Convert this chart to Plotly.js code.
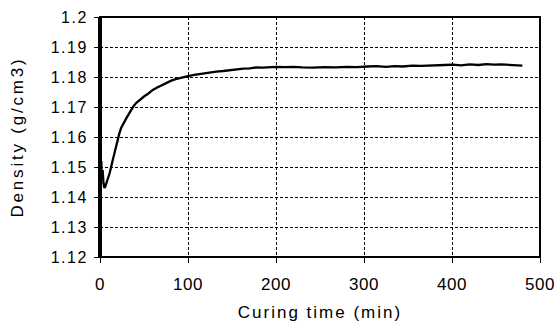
<!DOCTYPE html>
<html><head><meta charset="utf-8">
<script src="https://cdn.plot.ly/plotly-3.0.1.min.js"></script>
<style>
html,body{margin:0;padding:0;background:#fff;}
#chart{width:556px;height:325px;}
#chart .ytitle{letter-spacing:2.8px;}
#chart .xtitle{letter-spacing:2px;}
#chart .ytick text{letter-spacing:1.5px;}
#chart .xtick text{letter-spacing:0.5px;}
</style>
</head><body><div id="chart"></div>
<script>
const timeMin = [0, 0.5, 1, 1.5, 2, 3, 4, 5, 6, 7, 9, 11, 14.5, 17, 19.5, 22, 24, 27, 30, 33, 35, 38, 41, 45, 50, 55, 60, 65, 70, 75, 81, 86, 92, 100, 107, 113, 119, 125, 132, 140, 147, 155, 163, 170, 178, 185, 192, 200, 210, 220, 230, 242, 255, 268, 280, 292, 304, 314, 325, 335, 344, 355, 365, 375, 382, 392, 401, 410, 420, 430, 439, 448, 456, 464, 472, 480];
const density = [1.150, 1.154, 1.147, 1.152, 1.146, 1.149, 1.1445, 1.143, 1.1435, 1.1445, 1.1457, 1.148, 1.1523, 1.1555, 1.159, 1.1612, 1.163, 1.1648, 1.1663, 1.1678, 1.1688, 1.1702, 1.1713, 1.1724, 1.1735, 1.1745, 1.1757, 1.1765, 1.1773, 1.178, 1.1788, 1.1793, 1.1798, 1.1803, 1.1807, 1.181, 1.1812, 1.1815, 1.1818, 1.182, 1.1823, 1.1825, 1.1828, 1.1829, 1.1832, 1.1831, 1.1833, 1.1834, 1.1833, 1.1834, 1.1832, 1.1831, 1.1833, 1.1832, 1.1834, 1.1833, 1.1835, 1.1836, 1.1834, 1.1836, 1.1835, 1.1838, 1.1837, 1.1839, 1.1838, 1.184, 1.1841, 1.1839, 1.1842, 1.184, 1.1843, 1.1841, 1.1842, 1.184, 1.1839, 1.1838];
const xTicks = [0, 100, 200, 300, 400, 500];
const yTicks = [1.12, 1.13, 1.14, 1.15, 1.16, 1.17, 1.18, 1.19, 1.2];
const yTickText = ["1.12", "1.13", "1.14", "1.15", "1.16", "1.17", "1.18", "1.19", "1.2"];

const fam = "Liberation Sans, Arial, sans-serif";
Plotly.newPlot("chart", [{
  x: timeMin, y: density, type: "scatter", mode: "lines",
  line: {color: "#000", width: 2.3}, hoverinfo: "skip"
}], {
  width: 556, height: 325,
  margin: {l: 100, r: 16, t: 17, b: 68},
  paper_bgcolor: "#fff", plot_bgcolor: "#fff",
  showlegend: false,
  font: {family: fam, size: 16, color: "#000"},
  xaxis: {
    range: [0, 500], tickvals: xTicks, ticktext: xTicks.map(String),
    ticks: "outside", ticklen: 5, tickwidth: 1, tickcolor: "#000",
    ticklabelstandoff: 7,
    showgrid: true, gridcolor: "#000", gridwidth: 1, griddash: "3px,2px",
    showline: false, zeroline: false,
    title: {text: "Curing time (min)", font: {family: fam, size: 17, color: "#000"}, standoff: 12},
    tickfont: {family: fam, size: 17, color: "#000"}
  },
  yaxis: {
    range: [1.12, 1.2], tickvals: yTicks, ticktext: yTickText,
    ticks: "outside", ticklen: 5, tickwidth: 1, tickcolor: "#000",
    ticklabelstandoff: 3,
    showgrid: true, gridcolor: "#000", gridwidth: 1, griddash: "3px,2px",
    showline: false, zeroline: false,
    title: {text: "Density (g/cm3)", font: {family: fam, size: 17, color: "#000"}, standoff: 28},
    tickfont: {family: fam, size: 16, color: "#000"}
  },
  shapes: [
    {type: "rect", xref: "paper", yref: "paper", x0: 0, x1: 1, y0: 0, y1: 1, line: {color: "#000", width: 2}, layer: "above"},
    {type: "line", xref: "paper", yref: "paper", x0: 0, x1: 0, y0: 0, y1: 1, line: {color: "#000", width: 4}, layer: "above"}
  ]
}, {displayModeBar: false, staticPlot: true});
</script>
</body></html>
